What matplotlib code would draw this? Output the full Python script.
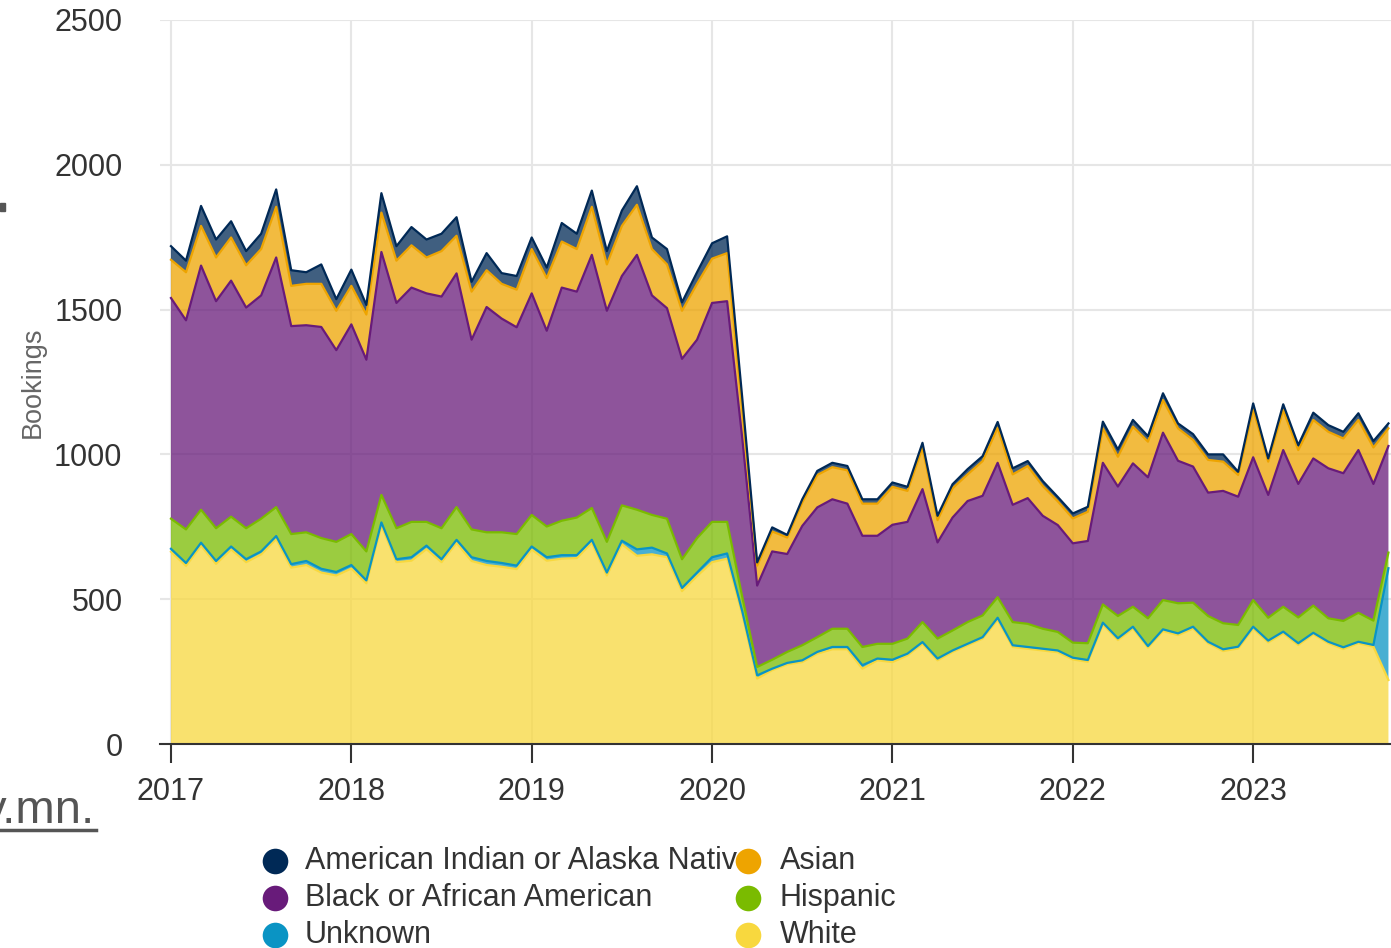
import numpy as np
import matplotlib.pyplot as plt
from matplotlib.patches import Rectangle
from matplotlib.lines import Line2D

# monthly bookings by race, Jan 2017 .. Oct 2023
years = ["2017", "2018", "2019", "2020", "2021", "2022", "2023"]

white = [664, 615, 685, 622, 672, 628, 655, 708, 609, 618, 592, 582,
         606, 555, 755, 628, 633, 673, 628, 695, 632, 618, 612, 604,
         672, 633, 640, 642, 695, 582, 690, 650, 655, 645, 528, 580,
         628, 640, 450, 226, 255, 275, 283, 312, 327, 327, 260, 289,
         283, 306, 346, 289, 318, 341, 364, 429, 335, 329, 323, 317,
         292, 284, 413, 359, 399, 333, 390, 376, 399, 348, 321, 330,
         399, 351, 382, 342, 379, 348, 328, 348, 336, 221]
unknown = [10, 10, 10, 10, 10, 10, 10, 10, 12, 14, 13, 12,
           12, 10, 10, 10, 12, 12, 10, 10, 13, 14, 13, 12,
           10, 12, 12, 10, 10, 10, 12, 22, 23, 13, 11, 12,
           17, 18, 10, 11, 5, 5, 6, 6, 8, 8, 12, 6,
           8, 6, 6, 6, 5, 5, 5, 7, 6, 6, 6, 6,
           6, 6, 6, 6, 6, 5, 6, 6, 6, 5, 6, 6,
           6, 6, 6, 6, 5, 5, 6, 5, 6, 386]
hispanic = [104, 116, 114, 113, 103, 107, 113, 100, 104, 99, 106, 104,
            107, 100, 95, 107, 122, 82, 107, 113, 96, 99, 106, 109,
            109, 106, 119, 130, 110, 106, 122, 137, 113, 120, 99, 119,
            122, 109, 50, 29, 31, 38, 52, 51, 63, 63, 63, 51,
            55, 52, 69, 69, 69, 75, 75, 71, 80, 80, 69, 64,
            52, 58, 63, 77, 69, 96, 101, 104, 83, 89, 90, 75,
            92, 79, 86, 89, 94, 81, 91, 100, 84, 54]
black = [762, 722, 843, 784, 815, 762, 771, 862, 718, 715, 729, 662,
         724, 662, 839, 778, 809, 789, 800, 807, 655, 778, 738, 714,
         765, 676, 805, 780, 874, 798, 792, 880, 758, 727, 692, 685,
         756, 762, 550, 281, 374, 338, 412, 448, 447, 432, 384, 373,
         411, 403, 459, 332, 390, 418, 413, 464, 405, 434, 390, 369,
         343, 353, 489, 447, 495, 487, 578, 492, 470, 426, 457, 443,
         493, 424, 541, 461, 508, 518, 510, 562, 472, 368]
asian = [132, 166, 137, 151, 149, 146, 160, 175, 139, 143, 149, 136,
         133, 156, 136, 146, 146, 124, 157, 130, 166, 127, 120, 130,
         153, 182, 159, 147, 166, 160, 173, 173, 160, 151, 166, 193,
         153, 166, 100, 69, 69, 57, 81, 112, 111, 115, 111, 111,
         131, 107, 143, 77, 101, 92, 120, 121, 105, 111, 103, 82,
         86, 101, 119, 103, 127, 123, 113, 112, 92, 113, 101, 75,
         166, 115, 138, 117, 133, 126, 120, 104, 126, 61]
aian = [47, 40, 69, 62, 56, 49, 53, 60, 54, 40, 67, 40,
        56, 33, 67, 50, 63, 62, 60, 64, 34, 59, 37, 47,
        40, 36, 64, 53, 56, 46, 53, 64, 40, 53, 29, 40,
        53, 58, 40, 11, 14, 9, 11, 14, 15, 15, 15, 15,
        15, 14, 17, 15, 14, 18, 17, 20, 21, 17, 17, 15,
        17, 17, 23, 25, 23, 19, 23, 17, 20, 19, 25, 11,
        20, 11, 20, 17, 25, 23, 23, 23, 22, 17]

# bottom to top
series = [white, unknown, hispanic, black, asian, aian]
colors = ["#f8d83e", "#0a94c4", "#7abb00", "#681b7a", "#eea400", "#002956"]
names = ["White", "Unknown", "Hispanic", "Black or African American",
         "Asian", "American Indian or Alaska Native"]

W, H = 1391, 948
fig = plt.figure(figsize=(W / 100, H / 100), dpi=100)
plt.rcParams['font.family'] = ['Liberation Sans', 'DejaVu Sans']

ax = fig.add_axes([160 / W, (H - 744) / H, (W - 160) / W, 724 / H])
x = np.arange(len(white))
ax.stackplot(x, *series, colors=colors, alpha=0.75, linewidth=0, zorder=2)
tops = np.cumsum(np.array(series), axis=0)
for top, c in zip(tops, colors):
    ax.plot(x, top, color=c, lw=1.6, zorder=3, solid_joinstyle='round')

ax.set_xlim(-0.73, 81.17)
ax.set_ylim(0, 2500)
ax.set_yticks(range(0, 2501, 500))
ax.set_xticks(range(0, 84, 12))
ax.set_xticklabels(years)
ax.grid(True, color="#e6e6e6", lw=1.5, zorder=0)
ax.set_axisbelow(True)
for s in ["top", "right", "left"]:
    ax.spines[s].set_visible(False)
ax.spines["bottom"].set_color("#333333")
ax.spines["bottom"].set_linewidth(1.5)
ax.spines["bottom"].set_zorder(5)
ax.tick_params(axis="x", length=14, width=1.5, color="#333333", pad=10,
               labelsize=22, labelcolor="#333333")
ax.tick_params(axis="y", length=0, pad=27, labelsize=22, labelcolor="#333333")
ax.set_ylabel("Bookings", fontsize=19.5, color="#666666")
ax.yaxis.set_label_coords(-114 / (W - 160), 0.5)

# overlay in pixel coordinates for legend and page fragments
ov = fig.add_axes([0, 0, 1, 1], zorder=10)
ov.set_xlim(0, W)
ov.set_ylim(H, 0)
ov.axis("off")
clip_ax = fig.add_axes([0, 0, 752 / W, 1], zorder=9)
clip_ax.set_xlim(0, 752)
clip_ax.set_ylim(H, 0)
clip_ax.axis("off")

legend_items = [(names[5], colors[5], 275, 861), (names[4], colors[4], 748, 861),
                (names[3], colors[3], 275, 898), (names[2], colors[2], 748, 898),
                (names[1], colors[1], 275, 935), (names[0], colors[0], 748, 935)]
for label, c, lx, ly in legend_items:
    if lx < 500:
        clip_ax.text(lx + 30, ly, label, fontsize=22, color="#333333",
                     va="center", ha="left", clip_on=True)
    else:
        ov.text(lx + 32, ly, label, fontsize=22, color="#333333",
                va="center", ha="left")
    ov.scatter([lx], [ly], s=340, color=c, zorder=12, linewidths=0)

ov.text(-17, 823, "y.mn.", fontsize=34, color="#555555", va="baseline", ha="left")
ov.add_line(Line2D([0, 96], [830, 830], color="#555555", lw=2.5))
ov.add_patch(Rectangle((0, 203), 5, 8, color="#555555"))

fig.savefig("out.png", dpi=100)
